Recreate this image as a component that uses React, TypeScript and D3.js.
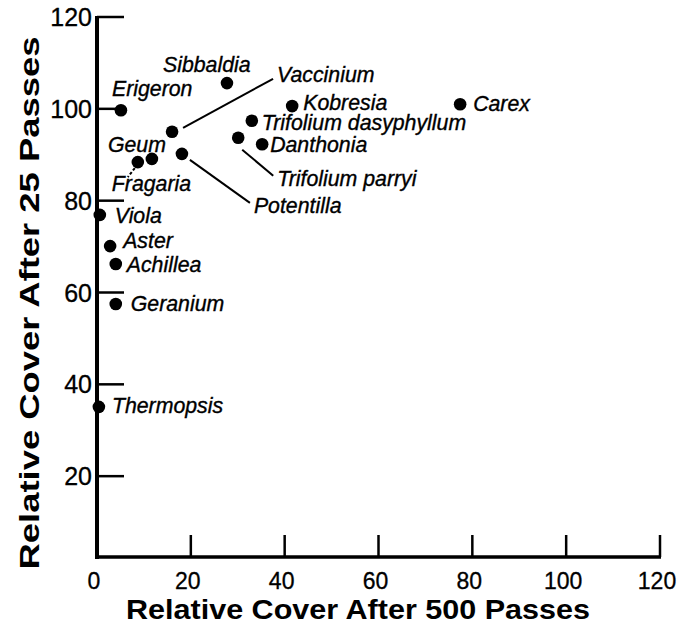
import React from "react";
import * as d3 from "d3";

// ---- data ----
const species = [
  "Erigeron", "Sibbaldia", "Vaccinium", "Geum", "Fragaria", "Potentilla",
  "Kobresia", "Trifolium dasyphyllum", "Trifolium parryi", "Danthonia", "Carex",
  "Viola", "Aster", "Achillea", "Geranium", "Thermopsis",
];
const cover500 = [5.1, 27.7, 16.0, 11.7, 8.7, 18.1, 41.6, 33.0, 30.1, 35.2, 77.4, 0.6, 2.8, 4.0, 4.0, 0.4];
const cover25 = [99.7, 105.6, 95.0, 89.1, 88.4, 90.2, 100.6, 97.4, 93.7, 92.3, 101.0, 76.9, 70.1, 66.2, 57.5, 35.1];
const xTicks = [20, 40, 60, 80, 100, 120];
const yTicks = [20, 40, 60, 80, 100, 120];
const xTickLabels = [0, 20, 40, 60, 80, 100, 120];
const xTitle = "Relative Cover After 500 Passes";
const yTitle = "Relative Cover After 25 Passes";

// ---- layout (label placement relative to each point, px) ----
const labelOffsets: [number, number][] = [
  [-9, -14], [-64, -11], [105, -50], [-44, -7], [-26, 29], [72, 59],
  [11, 4], [10, 9], [39, 48], [8, 8], [13, 7],
  [15, 8], [13, 2], [11, 8], [15, 7], [13, 6],
];
const leaders: { i: number; from: [number, number]; to: [number, number]; dashed?: boolean }[] = [
  { i: 2, from: [11, -4], to: [101, -53] },
  { i: 5, from: [8, 6], to: [68, 49] },
  { i: 8, from: [4, 12], to: [35, 38] },
  { i: 4, from: [-3, 6], to: [-10, 15], dashed: true },
];

const W = 678, H = 629;
const FONT = "'Liberation Sans', Arial, Helvetica, sans-serif";

export default function App() {
  const x = d3.scaleLinear().domain([0, 120]).range([97, 660]);
  const y = d3.scaleLinear().domain([0, 120]).range([568, 17]);
  const axisY = 557;
  const x0 = x(0);

  return (
    <svg width={W} height={H} style={{ position: "absolute", left: 0, top: 0, background: "#fff" }} fontFamily={FONT}>
      <rect width={W} height={H} fill="#fff" />
      {/* axes */}
      <line x1={x0} x2={x0} y1={y(120) - 1} y2={axisY + 2} stroke="#000" strokeWidth={4} />
      <line x1={x0 - 2} x2={x(120) + 1} y1={axisY} y2={axisY} stroke="#000" strokeWidth={3.5} />
      {yTicks.map((t) => (
        <line key={"yt" + t} x1={x0} x2={x0 + 27} y1={y(t)} y2={y(t)} stroke="#000" strokeWidth={2.5} />
      ))}
      {xTicks.map((t) => (
        <line key={"xt" + t} x1={x(t)} x2={x(t)} y1={axisY} y2={axisY - 22} stroke="#000" strokeWidth={2.5} />
      ))}
      {yTicks.map((t) => (
        <text key={"yl" + t} x={x0 - 5} y={y(t) + 9} fontSize={25} textAnchor="end" fill="#000" stroke="#000" strokeWidth={0.3}>{t}</text>
      ))}
      {xTickLabels.map((t) => (
        <text key={"xl" + t} x={x(t) - 3} y={589} fontSize={23} textAnchor="middle" fill="#000" stroke="#000" strokeWidth={0.3}>{t}</text>
      ))}
      {/* titles */}
      <text x={358} y={619} fontSize={28} fontWeight="bold" textAnchor="middle" textLength={464} lengthAdjust="spacingAndGlyphs" fill="#000">{xTitle}</text>
      <text transform={`translate(39,303) rotate(-90)`} fontSize={28} fontWeight="bold" textAnchor="middle" textLength={533} lengthAdjust="spacingAndGlyphs" fill="#000">{yTitle}</text>
      {/* leaders */}
      {leaders.map((l, k) => {
        const px = x(cover500[l.i]), py = y(cover25[l.i]);
        return (
          <line key={"ld" + k} x1={px + l.from[0]} y1={py + l.from[1]} x2={px + l.to[0]} y2={py + l.to[1]}
            stroke="#000" strokeWidth={2} strokeDasharray={l.dashed ? "3,2" : undefined} />
        );
      })}
      {/* points */}
      {species.map((s, i) => (
        <circle key={"p" + s} cx={x(cover500[i])} cy={y(cover25[i])} r={6.3} fill="#000" />
      ))}
      {/* labels */}
      {species.map((s, i) => (
        <text key={"t" + s} x={x(cover500[i]) + labelOffsets[i][0]} y={y(cover25[i]) + labelOffsets[i][1]}
          fontSize={21.3} fontStyle="italic" fill="#000" stroke="#000" strokeWidth={0.35}>{s}</text>
      ))}
    </svg>
  );
}
